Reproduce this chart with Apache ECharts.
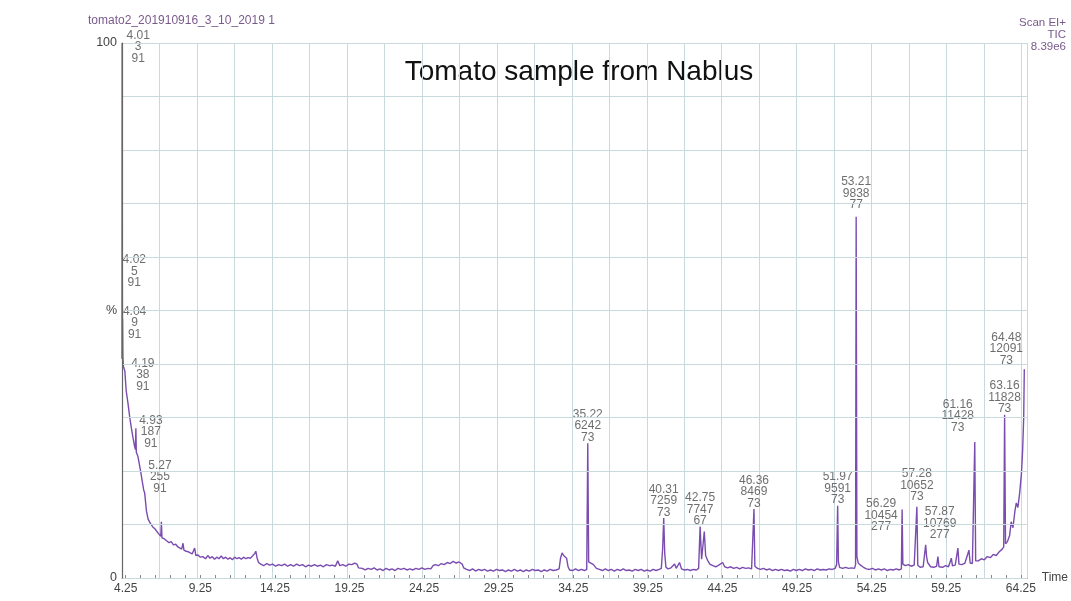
<!DOCTYPE html>
<html>
<head>
<meta charset="utf-8">
<title>Tomato sample from Nablus</title>
<script src="https://cdn.jsdelivr.net/npm/echarts@6/dist/echarts.min.js"></script>
<style>
  html, body { margin: 0; padding: 0; background: #fff; }
  #chart { width: 1071px; height: 601px; }
</style>
</head>
<body>
<div id="chart"></div>
<script>
// TIC trace: [retention time (min), relative intensity (%)]
const ticTrace = [
  [4.00, 41], [4.01, 100], [4.015, 50], [4.02, 58], [4.03, 47], [4.04, 48.4], [4.06, 41], [4.10, 39.5],
  [4.19, 38.7], [4.28, 35], [4.40, 32.7], [4.52, 30], [4.63, 28], [4.75, 26], [4.85, 24.5], [4.90, 24],
  [4.93, 28], [4.96, 23.5], [5.07, 22.7], [5.18, 21], [5.27, 19.6], [5.36, 18], [5.45, 16.5], [5.52, 15.9],
  [5.64, 12.5], [5.75, 11], [5.90, 10.2], [6.05, 9.6], [6.20, 9.2], [6.31, 9], [6.45, 8.3], [6.60, 7.8],
  [6.64, 10.5], [6.68, 7.5], [6.85, 7.3], [6.98, 7.1], [7.15, 6.6], [7.30, 6.8], [7.45, 6.2], [7.60, 6.3],
  [7.75, 5.8], [7.87, 5.9], [8.00, 5.4], [8.09, 6.5], [8.15, 5.2], [8.30, 5.0], [8.45, 4.9], [8.54, 4.7],
  [8.70, 4.5], [8.87, 5.6], [8.95, 4.2], [9.10, 4.3], [9.25, 3.9], [9.41, 4.0], [9.60, 3.6], [9.75, 4.2],
  [9.90, 3.7], [10.05, 4.0], [10.20, 3.5], [10.35, 3.9], [10.50, 3.6], [10.65, 4.1], [10.80, 3.6], [10.95, 3.9],
  [11.10, 3.5], [11.25, 3.8], [11.40, 3.4], [11.55, 3.9], [11.70, 3.6], [11.85, 3.8], [12.00, 3.5], [12.15, 3.9],
  [12.30, 3.6], [12.45, 3.8], [12.60, 3.7], [12.75, 4.1], [12.90, 4.6], [12.97, 5.0], [13.05, 3.8], [13.15, 2.9],
  [13.30, 2.6], [13.50, 2.3], [13.70, 2.7], [13.90, 2.4], [14.10, 2.6], [14.30, 2.2], [14.50, 2.5], [14.70, 2.3],
  [14.90, 2.6], [15.10, 2.2], [15.30, 2.5], [15.50, 2.2], [15.70, 2.6], [15.90, 2.3], [16.10, 2.5], [16.30, 2.1],
  [16.50, 2.4], [16.70, 2.2], [16.90, 2.5], [17.10, 2.2], [17.30, 2.4], [17.50, 2.1], [17.70, 2.5], [17.90, 2.3],
  [18.10, 2.4], [18.30, 2.2], [18.46, 3.2], [18.60, 2.3], [18.80, 2.5], [19.00, 2.2], [19.20, 2.6], [19.40, 2.5],
  [19.60, 2.8], [19.75, 2.6], [19.85, 1.9], [20.10, 1.8], [20.30, 1.5], [20.50, 1.8], [20.70, 1.6], [20.90, 1.9],
  [21.10, 1.5], [21.30, 1.7], [21.50, 1.4], [21.70, 1.8], [21.90, 1.5], [22.10, 1.7], [22.30, 1.4], [22.50, 1.8],
  [22.70, 1.6], [22.90, 1.8], [23.10, 1.5], [23.30, 1.7], [23.50, 1.5], [23.70, 1.8], [23.90, 1.6], [24.10, 1.9],
  [24.30, 1.6], [24.50, 1.8], [24.70, 1.7], [24.85, 2.3], [25.00, 2.5], [25.20, 2.3], [25.40, 2.7], [25.60, 2.5],
  [25.80, 2.9], [26.00, 2.7], [26.20, 3.1], [26.40, 2.8], [26.60, 3.0], [26.80, 2.6], [26.90, 1.9], [27.10, 1.6],
  [27.30, 1.4], [27.50, 1.7], [27.70, 1.3], [27.90, 1.6], [28.10, 1.4], [28.30, 1.6], [28.50, 1.3], [28.70, 1.5],
  [28.90, 1.3], [29.10, 1.6], [29.30, 1.4], [29.50, 1.5], [29.70, 1.2], [29.90, 1.5], [30.10, 1.3], [30.30, 1.6],
  [30.50, 1.3], [30.70, 1.5], [30.90, 1.2], [31.10, 1.5], [31.30, 1.3], [31.50, 1.6], [31.70, 1.4], [31.90, 1.5],
  [32.10, 1.2], [32.30, 1.5], [32.50, 1.3], [32.70, 1.6], [32.90, 1.4], [33.10, 1.5], [33.30, 1.7], [33.40, 3.8],
  [33.50, 4.7], [33.60, 4.2], [33.70, 4.5], [33.80, 3.7], [33.90, 2.1], [34.00, 1.5], [34.20, 1.4], [34.40, 1.7],
  [34.60, 1.4], [34.80, 1.6], [35.00, 1.4], [35.15, 1.6], [35.22, 25.2], [35.28, 3.0], [35.40, 2.8], [35.60, 2.5],
  [35.80, 1.8], [36.00, 1.6], [36.20, 1.4], [36.40, 1.7], [36.60, 1.4], [36.80, 1.6], [37.00, 1.3], [37.20, 1.6],
  [37.40, 1.4], [37.60, 1.7], [37.80, 1.4], [38.00, 1.5], [38.20, 1.3], [38.40, 1.6], [38.60, 1.4], [38.80, 1.6],
  [39.00, 1.3], [39.20, 1.5], [39.40, 1.3], [39.60, 1.6], [39.80, 1.4], [40.00, 1.6], [40.15, 1.8], [40.24, 5.5],
  [40.31, 11.2], [40.38, 4.5], [40.46, 2.0], [40.60, 1.7], [40.80, 1.9], [41.04, 2.6], [41.15, 1.8], [41.37, 2.9],
  [41.50, 1.7], [41.70, 1.5], [41.90, 1.6], [42.10, 1.4], [42.30, 1.6], [42.50, 1.5], [42.65, 1.8], [42.75, 9.6],
  [42.85, 3.5], [42.95, 3.8], [43.03, 8.7], [43.12, 4.2], [43.25, 3.3], [43.40, 2.6], [43.60, 2.3], [43.80, 2.1],
  [44.00, 2.4], [44.26, 2.9], [44.40, 2.1], [44.60, 1.9], [44.80, 2.1], [45.00, 1.8], [45.20, 2.0], [45.40, 1.7],
  [45.60, 2.0], [45.80, 1.8], [46.00, 1.9], [46.20, 1.7], [46.30, 1.9], [46.36, 12.9], [46.42, 2.2], [46.60, 1.8],
  [46.80, 1.6], [47.00, 1.8], [47.20, 1.5], [47.40, 1.7], [47.60, 1.4], [47.80, 1.6], [48.00, 1.4], [48.20, 1.6],
  [48.40, 1.4], [48.60, 1.5], [48.80, 1.3], [49.00, 1.6], [49.20, 1.4], [49.40, 1.6], [49.60, 1.4], [49.80, 1.7],
  [50.00, 1.5], [50.20, 1.6], [50.40, 1.4], [50.60, 1.7], [50.80, 1.5], [51.00, 1.6], [51.20, 1.5], [51.40, 1.7],
  [51.60, 1.6], [51.80, 1.8], [51.90, 2.5], [51.97, 13.5], [52.02, 3.0], [52.10, 2.0], [52.30, 1.8], [52.50, 2.0],
  [52.70, 1.8], [52.90, 1.9], [53.10, 1.8], [53.17, 2.5], [53.21, 67.5], [53.26, 4.0], [53.35, 2.8], [53.50, 2.4],
  [53.70, 2.0], [53.90, 1.7], [54.10, 1.6], [54.30, 1.8], [54.50, 1.5], [54.70, 1.7], [54.90, 1.5], [55.10, 1.7],
  [55.30, 1.4], [55.50, 1.6], [55.70, 1.5], [55.90, 1.7], [56.10, 1.5], [56.24, 1.7], [56.29, 12.8], [56.34, 2.6],
  [56.50, 2.3], [56.70, 2.5], [56.90, 2.2], [57.10, 2.4], [57.22, 2.3], [57.28, 13.3], [57.34, 2.4], [57.50, 2.0],
  [57.70, 2.1], [57.82, 2.4], [57.87, 6.2], [57.93, 4.0], [58.00, 2.9], [58.20, 2.1], [58.40, 2.0], [58.60, 2.2],
  [58.69, 4.0], [58.76, 2.1], [59.00, 2.0], [59.20, 2.3], [59.40, 2.1], [59.59, 3.7], [59.66, 2.3], [59.85, 2.4],
  [60.03, 5.6], [60.10, 2.6], [60.30, 2.5], [60.50, 2.8], [60.77, 5.2], [60.85, 2.8], [61.00, 2.7], [61.10, 3.0],
  [61.16, 25.4], [61.22, 3.2], [61.40, 3.2], [61.60, 3.6], [61.80, 3.4], [62.00, 4.0], [62.20, 3.8], [62.40, 4.4],
  [62.60, 4.2], [62.80, 4.9], [63.00, 5.4], [63.10, 5.8], [63.16, 30.5], [63.22, 6.4], [63.35, 6.8], [63.50, 8.0],
  [63.60, 10.5], [63.72, 9.4], [63.85, 12.5], [63.94, 14.0], [64.05, 13.2], [64.17, 15.9], [64.29, 19.6],
  [64.37, 24.0], [64.44, 30], [64.48, 39.0]
];

// labelled peaks: retention time, height (%), scan number, base m/z
const peakTimes   = [4.01, 4.02, 4.04, 4.19, 4.93, 5.27, 35.22, 40.31, 42.75, 46.36, 51.97, 53.21, 56.29, 57.28, 57.87, 61.16, 63.16, 64.48];
const peakHeights = [100, 58, 48.4, 38.7, 28, 19.6, 25.2, 11.2, 9.6, 12.9, 13.5, 67.5, 12.8, 13.3, 6.2, 25.4, 30.5, 39.0];
const peakScans   = [3, 5, 9, 38, 187, 255, 6242, 7259, 7747, 8469, 9591, 9838, 10454, 10652, 10769, 11428, 11828, 12091];
const peakMasses  = [91, 91, 91, 91, 91, 91, 73, 73, 67, 73, 73, 77, 277, 73, 277, 73, 73, 73];

const xTickLabels = [4.25, 9.25, 14.25, 19.25, 24.25, 29.25, 34.25, 39.25, 44.25, 49.25, 54.25, 59.25, 64.25];
const xMinorTicks = [4.25, 5.25, 6.25, 7.25, 8.25, 9.25, 10.25, 11.25, 12.25, 13.25, 14.25, 15.25, 16.25, 17.25, 18.25,
  19.25, 20.25, 21.25, 22.25, 23.25, 24.25, 25.25, 26.25, 27.25, 28.25, 29.25, 30.25, 31.25, 32.25, 33.25, 34.25,
  35.25, 36.25, 37.25, 38.25, 39.25, 40.25, 41.25, 42.25, 43.25, 44.25, 45.25, 46.25, 47.25, 48.25, 49.25, 50.25,
  51.25, 52.25, 53.25, 54.25, 55.25, 56.25, 57.25, 58.25, 59.25, 60.25, 61.25, 62.25, 63.25, 64.25];
const yLabelValues = [0, 50, 100];
const yLabelTexts  = ['0', '%', '100'];

const fileName = 'tomato2_201910916_3_10_2019 1';
const scanInfo = ['Scan EI+', 'TIC', '8.39e6'];
const chartTitle = 'Tomato sample from Nablus';

// where the printout moved a label off its peak (px)
const labelNudge = {
  '4.01': [16, 21], '4.02': [12, 21], '4.04': [12, 21], '4.19': [18, 21], '4.93': [15, 21], '5.27': [19, 21],
  '53.21': [0, -6], '56.29': [-21, 23], '57.28': [0, -4], '57.87': [14, -4], '61.16': [-17, -9], '64.48': [-18, -3]
};

const font = 'Liberation Sans';
const chart = echarts.init(document.getElementById('chart'), null, { renderer: 'canvas' });

const peakData = peakTimes.map((t, i) => ({
  value: [t, peakHeights[i]],
  scan: peakScans[i],
  mass: peakMasses[i],
  label: { offset: labelNudge[t.toFixed(2)] || [0, 0] }
}));

// header lines, right-aligned one under another
const scanText = scanInfo.map((s, i) => ({
  type: 'text', x: 1066, y: 17 + i * 12,
  style: { text: s, fill: '#7a5a8c', align: 'right', font: '11.5px "Liberation Sans"' }
}));

const option = {
  backgroundColor: '#ffffff',
  animation: false,
  grid: { left: 122, right: 43, top: 43, bottom: 23 },
  graphic: [
    { type: 'text', x: 88, y: 15, style: { text: fileName, fill: '#7a5a8c', font: '12px "Liberation Sans"' } },
    ...scanText,
    { type: 'text', x: 579, y: 72, style: { text: chartTitle, fill: '#111', align: 'center', verticalAlign: 'middle', font: '28px "Liberation Sans"' } }
  ],
  xAxis: [{
    type: 'value',
    min: 4.0,
    max: 64.7,
    name: 'Time',
    nameLocation: 'end',
    nameGap: 3,
    nameTextStyle: { color: '#444', fontFamily: font, fontSize: 12 },
    axisLine: { lineStyle: { color: '#888', width: 1 } },
    axisTick: { show: true, inside: true, length: 3, customValues: xMinorTicks, lineStyle: { color: '#888' } },
    axisLabel: {
      customValues: xTickLabels,
      formatter: v => v.toFixed(2),
      color: '#444', fontFamily: font, fontSize: 12, margin: 5
    },
    splitLine: { show: false }
  }, {
    // the chart paper's own vertical ruling
    type: 'value',
    min: 0,
    max: 24.16,
    interval: 1,
    show: true,
    position: 'bottom',
    axisLine: { show: false },
    axisTick: { show: false },
    axisLabel: { show: false },
    splitLine: { show: true, lineStyle: { color: '#c9dadd', width: 1 } }
  }],
  yAxis: {
    type: 'value',
    min: 0,
    max: 100,
    interval: 10,
    z: 5,
    axisLine: { show: true, lineStyle: { color: '#666', width: 1.2 } },
    axisTick: { show: false },
    axisLabel: {
      customValues: yLabelValues,
      formatter: v => yLabelTexts[yLabelValues.indexOf(v)],
      color: '#444', fontFamily: font, fontSize: 12.5, margin: 5
    },
    splitLine: { show: true, lineStyle: { color: '#c9dadd', width: 1 } }
  },
  series: [{
    name: 'TIC',
    type: 'line',
    xAxisIndex: 0,
    data: ticTrace,
    showSymbol: false,
    smooth: false,
    lineStyle: { color: '#7a4cb0', width: 1.4 },
    z: 3
  }, {
    name: 'peaks',
    type: 'scatter',
    xAxisIndex: 0,
    data: peakData,
    symbolSize: 0,
    silent: true,
    clip: false,
    label: {
      show: true,
      position: 'top',
      distance: 0,
      align: 'center',
      formatter: p => p.value[0].toFixed(2) + '\n' + p.data.scan + '\n' + p.data.mass,
      color: '#4a4a4a',
      fontFamily: font,
      fontSize: 12,
      lineHeight: 11.5
    },
    z: 4
  }]
};

chart.setOption(option);
</script>
</body>
</html>
